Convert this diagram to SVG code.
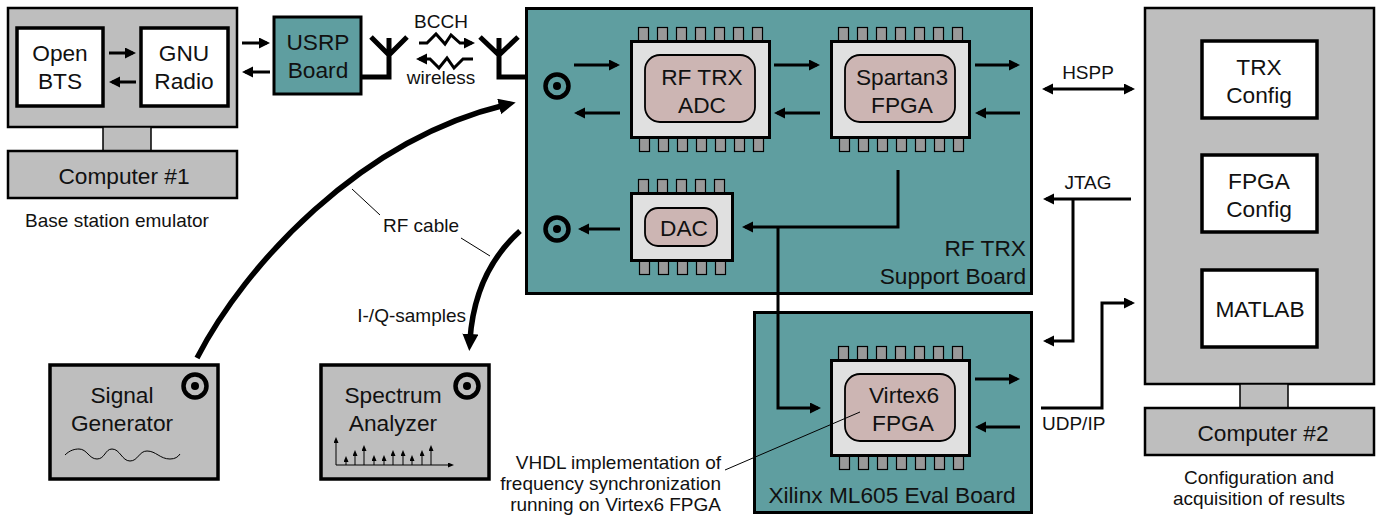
<svg xmlns="http://www.w3.org/2000/svg" xmlns:xlink="http://www.w3.org/1999/xlink" width="1379" height="515" viewBox="0 0 1379 515">
<style>
text{font-family:"Liberation Sans",Arial,sans-serif;fill:#111;font-size:22.7px;text-anchor:middle}
.s{font-size:19px}
.e{text-anchor:end}
.st{text-anchor:start}
.gray{fill:#bebebe;stroke:#000;stroke-width:2.5}
.gthin{fill:#bebebe;stroke:#000;stroke-width:1.5}
.gk{fill:#bebebe;stroke:#000;stroke-width:3.5}
.white{fill:#fff;stroke:#000;stroke-width:3.5}
.teal{fill:#5f9ea0;stroke:#000;stroke-width:3}
.chip{fill:#e0e0e0;stroke:#000;stroke-width:3}
.core{fill:#ccb5b3;stroke:#000;stroke-width:1.8}
.pin{fill:#999;stroke:#000;stroke-width:1.2}
.ar{fill:none;stroke:#000;stroke-width:3;marker-end:url(#a)}
.ant{fill:none;stroke:#000;stroke-width:5}
.thick{fill:none;stroke:#000;stroke-width:5.5;marker-end:url(#b)}
.lead{fill:none;stroke:#000;stroke-width:1}
.sp{fill:none;stroke:#000;stroke-width:1;marker-end:url(#c)}
</style>
<defs>
<marker id="a" markerUnits="userSpaceOnUse" markerWidth="12" markerHeight="12" refX="8" refY="5.5" orient="auto-start-reverse"><path d="M0,0 L11,5.5 L0,11 Z" fill="#000"/></marker>
<marker id="b" markerUnits="userSpaceOnUse" markerWidth="20" markerHeight="18" refX="6" refY="8" orient="auto"><path d="M0,0 L17,8 L0,16 Z" fill="#000"/></marker>
<marker id="c" markerUnits="userSpaceOnUse" markerWidth="7" markerHeight="6" refX="1" refY="2.5" orient="auto"><path d="M0,0 L6,2.5 L0,5 Z" fill="#000"/></marker>
<g id="pins7"><rect class="pin" x="0" y="0" width="10" height="14"/><rect class="pin" x="19" y="0" width="10" height="14"/><rect class="pin" x="38" y="0" width="10" height="14"/><rect class="pin" x="57" y="0" width="10" height="14"/><rect class="pin" x="76" y="0" width="10" height="14"/><rect class="pin" x="95" y="0" width="10" height="14"/><rect class="pin" x="114" y="0" width="10" height="14"/></g>
<g id="pins5"><rect class="pin" x="0" y="0" width="10" height="14"/><rect class="pin" x="19" y="0" width="10" height="14"/><rect class="pin" x="38" y="0" width="10" height="14"/><rect class="pin" x="57" y="0" width="10" height="14"/><rect class="pin" x="76" y="0" width="10" height="14"/></g>
<g id="coax"><circle r="11.5" fill="none" stroke="#000" stroke-width="4.5"/><circle r="4" fill="#000"/></g>
</defs>

<g id="computer1">
<rect class="gray" x="8" y="8" width="229" height="119"/>
<rect class="gthin" x="103" y="127" width="48" height="24"/>
<rect class="gray" x="8" y="151" width="229" height="47"/>
<text x="124" y="184">Computer #1</text>
<text class="s" x="117" y="227">Base station emulator</text>
</g>
<g id="openbts"><rect class="white" x="17" y="28" width="86" height="78"/><text x="60" y="61">Open</text><text x="60" y="89">BTS</text></g>
<g id="gnuradio"><rect class="white" x="141" y="28" width="87" height="78"/><text x="184" y="61">GNU</text><text x="184" y="89">Radio</text></g>
<g id="usrp"><rect class="teal" x="274" y="17" width="87" height="77"/><text x="318" y="50">USRP</text><text x="318" y="78">Board</text></g>
<g id="rftrx-board"><rect class="teal" x="526.500" y="8.500" width="505" height="285"/><text class="e" x="1026" y="256">RF TRX</text><text class="e" x="1026" y="284">Support Board</text></g>
<g id="ml605-board"><rect class="teal" x="754.500" y="312.500" width="277" height="200"/><text x="892" y="503">Xilinx ML605 Eval Board</text></g>

<g id="adc"><use href="#pins7" x="638.500" y="27.500"/><use href="#pins7" x="639.500" y="137.500"/><rect class="chip" x="631.500" y="41.500" width="138" height="96"/><rect class="core" x="645" y="55" width="110" height="67" rx="15"/><text x="702" y="85">RF TRX</text><text x="702" y="113">ADC</text></g>
<g id="spartan"><use href="#pins7" x="838.500" y="27.500"/><use href="#pins7" x="839.500" y="137.500"/><rect class="chip" x="831.500" y="41.500" width="138" height="96"/><rect class="core" x="845" y="55" width="110" height="67" rx="15"/><text x="902" y="85">Spartan3</text><text x="902" y="113">FPGA</text></g>
<g id="dac"><use href="#pins5" x="638.500" y="179.500"/><use href="#pins5" x="639.500" y="260.500"/><rect class="chip" x="631.500" y="193.500" width="101" height="67"/><rect class="core" x="645" y="208" width="72" height="38" rx="13"/><text x="684" y="236">DAC</text></g>
<g id="virtex"><use href="#pins7" x="838.500" y="346.500"/><use href="#pins7" x="839.500" y="455.500"/><rect class="chip" x="831.500" y="360.500" width="138" height="95"/><rect class="core" x="845" y="374" width="110" height="67" rx="15"/><text x="904" y="403">Virtex6</text><text x="903" y="431">FPGA</text></g>
<g id="coax-a"><use href="#coax" x="557" y="86"/></g>
<g id="coax-b"><use href="#coax" x="557" y="229"/></g>

<g id="signal-generator">
<rect class="gk" x="50" y="365" width="168" height="114"/>
<use href="#coax" x="195" y="386"/>
<text x="122" y="403">Signal</text><text x="122" y="431">Generator</text>
<path class="lead" d="M65,455 C70,450 75,449 79,449 C87,449 89,459 97,459 C105,459 105,449 112,449 C120,449 122,461 130,461 C138,461 139,451 147,451 C156,451 160,459 170,459 C175,459 178,457 180,454"/>
</g>
<g id="spectrum-analyzer">
<rect class="gk" x="321" y="365" width="168" height="114"/>
<use href="#coax" x="467" y="386"/>
<text x="393" y="403">Spectrum</text><text x="393" y="431">Analyzer</text>
<path class="sp" d="M336,465 V442"/><path class="sp" d="M336,465 H449"/>
<path class="sp" d="M346,465 V461"/><path class="sp" d="M355,465 V455"/><path class="sp" d="M364,465 V450"/><path class="sp" d="M374,465 V460"/><path class="sp" d="M384,465 V460"/><path class="sp" d="M393,465 V455"/><path class="sp" d="M403,465 V455"/><path class="sp" d="M412,465 V460"/><path class="sp" d="M422,465 V455"/><path class="sp" d="M431,465 V450"/>
</g>

<g id="computer2">
<rect class="gray" x="1145" y="8" width="229" height="376"/>
<rect class="gthin" x="1240" y="384" width="48" height="24"/>
<rect class="gray" x="1145" y="408" width="229" height="47"/>
<text x="1263" y="441">Computer #2</text>
<text class="s" x="1259" y="484">Configuration and</text><text class="s" x="1259" y="505">acquisition of results</text>
</g>
<g id="trx-config"><rect class="white" x="1202" y="41" width="115" height="77"/><text x="1259" y="75">TRX</text><text x="1259" y="103">Config</text></g>
<g id="fpga-config"><rect class="white" x="1202" y="155" width="115" height="77"/><text x="1259" y="189">FPGA</text><text x="1259" y="217">Config</text></g>
<g id="matlab"><rect class="white" x="1202" y="270" width="115" height="77"/><text x="1260" y="317">MATLAB</text></g>

<g id="connectors">
<path class="ar" d="M109,53 H133"/><path class="ar" d="M136,82 H112"/>
<path class="ar" d="M242,43 H267"/><path class="ar" d="M270,72 H245"/>
<path class="ant" d="M361,77 H389 V38 M371,37 L389,55 L407,37"/>
<path class="ant" d="M527,77 H499 V38 M480,37 L499,55 L518,37"/>
<path class="ar" d="M419,43 H427 L436,34 L445,44 L451,35 L460,43 H472"/>
<path class="ar" d="M473,59 H463 L454,68 L447,58 L439,68 L430,59 H419"/>
<path class="ar" d="M574,65 H617"/><path class="ar" d="M620,113 H577"/>
<path class="ar" d="M774,65 H817"/><path class="ar" d="M820,113 H777"/>
<path class="ar" d="M975,65 H1017"/><path class="ar" d="M1020,113 H978"/>
<path class="ar" d="M620,229 H581"/>
<path class="ar" d="M898,170 V227 H745"/>
<path class="ar" d="M778,227 V408 H818"/>
<path class="ar" d="M975,379 H1017"/><path class="ar" d="M1020,427 H978"/>
<path class="ar" style="marker-start:url(#a)" d="M1045,89 H1132"/>
<path class="ar" d="M1131,199 H1046"/>
<path class="ar" d="M1073,199 V341 H1046"/>
<path class="ar" d="M1041,408 H1102 V303 H1132"/>
<path class="thick" d="M197,358 C245,265 360,140 505,105"/>
<path class="thick" d="M520,231 C490,258 473,295 470,340"/>
<path class="lead" d="M352,189 L380,215"/>
<path class="lead" d="M461,238 L490,256"/>
<path class="lead" d="M860,412 L725,470"/>
</g>
<g id="labels">
<text class="s" x="441" y="28">BCCH</text>
<text class="s" x="441" y="84">wireless</text>
<text class="s" x="421" y="232">RF cable</text>
<text class="s e" x="466" y="322">I-/Q-samples</text>
<text class="s" x="1088" y="79">HSPP</text>
<text class="s" x="1088" y="189">JTAG</text>
<text class="s st" x="1042" y="430">UDP/IP</text>
<text class="s e" x="721" y="469">VHDL implementation of</text>
<text class="s e" x="721" y="490">frequency synchronization</text>
<text class="s e" x="721" y="511">running on Virtex6 FPGA</text>
</g>
</svg>
